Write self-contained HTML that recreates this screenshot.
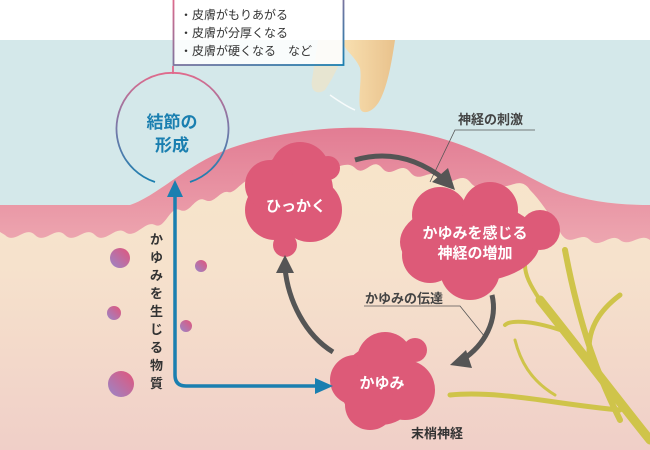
<!DOCTYPE html>
<html><head><meta charset="utf-8"><style>
html,body{margin:0;padding:0;background:#fff}
svg{display:block}
text{font-family:"Liberation Sans","Noto Sans CJK JP",sans-serif}
</style></head><body>
<svg width="650" height="450" viewBox="0 0 650 450" xmlns="http://www.w3.org/2000/svg">
<defs>
<linearGradient id="derm" x1="0" y1="0" x2="0" y2="1">
<stop offset="0" stop-color="#f8e8c8"/><stop offset="0.55" stop-color="#f6e2cc"/><stop offset="1" stop-color="#f0cfc8"/>
</linearGradient>
<linearGradient id="skin" x1="0" y1="0" x2="0" y2="1">
<stop offset="0" stop-color="#e27c93"/><stop offset="1" stop-color="#eda6b0"/>
</linearGradient>
<linearGradient id="ring" x1="0" y1="0" x2="0" y2="1">
<stop offset="0" stop-color="#e06a8c"/><stop offset="0.5" stop-color="#7a79a8"/><stop offset="1" stop-color="#1a7fb0"/>
</linearGradient>
<linearGradient id="box" x1="0" y1="0" x2="1" y2="1">
<stop offset="0" stop-color="#e06a8c"/><stop offset="1" stop-color="#1a7fb0"/>
</linearGradient>
<linearGradient id="dot" x1="1" y1="0" x2="0" y2="1">
<stop offset="0" stop-color="#e2557a"/><stop offset="1" stop-color="#9a86c8"/>
</linearGradient>
<linearGradient id="finger" x1="0" y1="0" x2="1" y2="0">
<stop offset="0" stop-color="#f8dfb0"/><stop offset="1" stop-color="#e9c28c"/>
</linearGradient>
</defs>
<rect width="650" height="450" fill="#fff"/>
<rect x="0" y="40" width="650" height="410" fill="url(#derm)"/>
<path d="M0,40 L650,40 L650,205 C620,205 590,202 560,192 C520,175 470,138 400,130 C340,124 290,130 240,145 C190,160 160,195 130,205 L0,205 Z" fill="#d4e8ea"/>
<!-- skin layer -->
<path d="M0,205 L130,205 C160,195 190,160 240,145 C290,130 340,124 400,130 C470,138 520,175 560,192 C590,202 620,205 650,205 L650,240 C640,232 630,248 620,240 C610,232 600,250 590,240 C580,230 570,250 560,232 C550,215 540,200 530,190 C520,175 510,190 500,185 C490,180 480,195 470,182 C460,170 450,190 440,178 C430,166 420,185 410,172 C400,160 392,180 382,168 C372,156 365,178 355,168 C345,158 330,175 318,168 C305,160 295,180 285,175 C275,170 262,185 255,180 C245,175 235,195 228,192 C220,190 214,205 205,200 C195,195 190,215 180,210 C170,205 165,230 155,225 C145,220 135,240 125,232 C115,225 105,245 95,235 C85,225 75,245 65,235 C55,225 45,245 35,235 C25,225 15,245 5,235 L0,232 Z" fill="url(#skin)"/>
<!-- finger -->
<path d="M345,40 L395,40 C392,60 388,85 380,100 C374,112 362,116 360,108 C358,95 362,80 360,68 C355,55 340,48 345,40 Z" fill="url(#finger)"/>
<path d="M318,40 L345,40 C345,55 335,75 325,90 C318,95 310,92 312,80 Z" fill="#f4e2c0" opacity="0.6"/>
<path d="M330,95 C340,102 350,108 355,110" stroke="#fff" stroke-width="1.5" fill="none" opacity="0.8"/>
<!-- nerves -->
<g stroke="#cfc44a" fill="none" stroke-linecap="round">
<path d="M650,440 C610,390 580,350 540,300" stroke-width="9"/>
<path d="M620,420 C600,380 580,330 565,250" stroke-width="6"/>
<path d="M590,360 C585,330 600,310 620,295" stroke-width="5"/>
<path d="M560,330 C530,320 510,320 505,325" stroke-width="4"/>
<path d="M620,410 C560,405 500,390 450,395" stroke-width="5"/>
<path d="M555,395 C530,380 520,360 515,340" stroke-width="3"/>
<path d="M540,300 C530,285 525,275 525,265" stroke-width="4"/>
</g>
<!-- dots -->
<circle cx="120" cy="258" r="10" fill="url(#dot)"/>
<circle cx="201" cy="266" r="6" fill="url(#dot)"/>
<circle cx="114" cy="313" r="7" fill="url(#dot)"/>
<circle cx="186" cy="326" r="6" fill="url(#dot)"/>
<circle cx="121" cy="384" r="13" fill="url(#dot)"/>
<!-- blobs -->
<g fill="#dd5a78">
<circle cx="295" cy="190" r="38"/><circle cx="275" cy="210" r="30"/><circle cx="310" cy="210" r="32"/>
<circle cx="300" cy="172" r="30"/><circle cx="328" cy="168" r="12"/><circle cx="285" cy="245" r="12"/>
<circle cx="270" cy="185" r="25"/>
<ellipse cx="470" cy="242" rx="70" ry="40"/><circle cx="440" cy="215" r="28"/><circle cx="490" cy="210" r="28"/>
<circle cx="540" cy="230" r="20"/><circle cx="470" cy="270" r="30"/><circle cx="430" cy="255" r="28"/>
<circle cx="380" cy="385" r="40"/><circle cx="355" cy="380" r="25"/><circle cx="405" cy="390" r="30"/>
<circle cx="385" cy="360" r="28"/><circle cx="415" cy="350" r="12"/><circle cx="370" cy="405" r="25"/>
</g>
<!-- gray arrows -->
<g stroke="#555" stroke-width="5" fill="none">
<path d="M355,160 C390,150 420,160 445,180"/>
<path d="M492,295 C498,320 485,345 462,360"/>
<path d="M333,352 C305,335 288,300 285,268"/>
</g>
<g fill="#555">
<polygon points="455,190 432,182 448,168"/>
<polygon points="450,365 466,350 472,368"/>
<polygon points="285,255 276,273 294,273"/>
</g>
<!-- leader lines -->
<g stroke="#555" stroke-width="0.8" fill="none">
<path d="M430,182 L455,130 L535,130"/>
<path d="M364,306 L460,306 L485,337"/>
</g>
<text x="458" y="124" font-size="13" font-weight="bold" fill="#444">神経の刺激</text>
<text x="365" y="303" font-size="13" font-weight="bold" fill="#444">かゆみの伝達</text>
<text x="411" y="438" font-size="13" font-weight="bold" fill="#333">末梢神経</text>
<!-- blue arrow -->
<path d="M175,195 L175,375 Q175,386 186,386 L318,386" stroke="#1a7fb0" stroke-width="3.5" fill="none"/>
<polygon points="175,180 167,197 183,197" fill="#1a7fb0"/>
<polygon points="333,386 315,378 315,394" fill="#1a7fb0"/>
<text font-size="13" font-weight="bold" fill="#333">
<tspan x="150" y="244">か</tspan><tspan x="150" y="262">ゆ</tspan><tspan x="150" y="280">み</tspan><tspan x="150" y="298">を</tspan><tspan x="150" y="316">生</tspan><tspan x="150" y="334">じ</tspan><tspan x="150" y="352">る</tspan><tspan x="150" y="370">物</tspan><tspan x="150" y="388">質</tspan>
</text>
<!-- circle -->
<path d="M155,182 A56,56 0 1 1 190,182" stroke="url(#ring)" stroke-width="1.8" fill="none"/>
<line x1="173" y1="66" x2="173" y2="74" stroke="#e06a8c" stroke-width="1.8"/>
<text x="172" y="128" font-size="17" font-weight="bold" fill="#1a7fb0" text-anchor="middle">結節の</text>
<text x="172" y="151" font-size="17" font-weight="bold" fill="#1a7fb0" text-anchor="middle">形成</text>
<!-- box -->
<rect x="173.5" y="-2" width="170" height="67" fill="#fff" fill-opacity="0.85" stroke="url(#box)" stroke-width="1.8"/>
<text font-size="12" fill="#333">
<tspan x="180" y="19">・皮膚がもりあがる</tspan>
<tspan x="180" y="37">・皮膚が分厚くなる</tspan>
<tspan x="180" y="55">・皮膚が硬くなる　など</tspan>
</text>
<!-- blob labels -->
<g fill="#fff" font-weight="bold" text-anchor="middle">
<text x="296" y="211" font-size="15">ひっかく</text>
<text x="475" y="238" font-size="15">かゆみを感じる</text>
<text x="475" y="258" font-size="15">神経の増加</text>
<text x="382" y="388" font-size="15">かゆみ</text>
</g>
</svg>
</body></html>
